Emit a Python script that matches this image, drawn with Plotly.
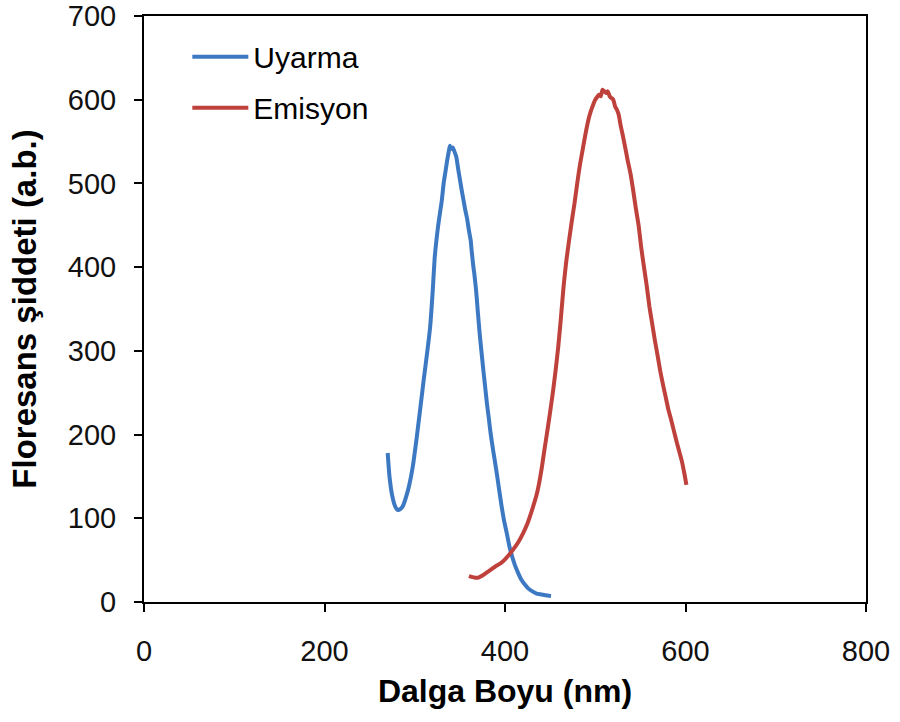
import plotly.graph_objects as go

# Uyarma (excitation) spectrum
uyarma_nm = [270, 272, 275, 278, 281, 284, 287, 290, 294, 298, 302, 306, 310, 314, 317,
             320, 322, 324, 326, 328, 330, 332, 334, 336, 338, 339, 340, 342, 344, 346,
             348, 350, 352, 354, 356, 358, 360, 362, 363, 364, 365, 366, 368, 370, 372,
             374, 376, 378, 380, 382, 384, 387, 390, 393, 396, 399, 402, 405, 408, 411,
             414, 418, 422, 426, 430, 435, 440, 445, 451]
uyarma_val = [178, 150, 127, 115, 110, 111, 115, 124, 140, 163, 195, 230, 266, 300, 328,
              373, 410, 432, 450, 465, 480, 500, 514, 528, 540, 545, 541, 543, 538, 532,
              518, 505, 492, 480, 468, 458, 444, 432, 420, 410, 400, 392, 372, 345, 320,
              298, 277, 257, 237, 220, 202, 180, 160, 138, 116, 97, 82, 66, 54, 44,
              36, 27, 21, 16, 13, 10, 9, 8, 7]

# Emisyon (emission) spectrum
emisyon_nm = [360, 363, 367, 370, 374, 378, 382, 386, 390, 395, 400, 405, 410, 415, 420,
              425, 430, 435, 438, 441, 444, 447, 450, 453, 456, 459, 462, 465, 468, 471,
              474, 477, 480, 483, 486, 489, 492, 495, 498, 500, 502, 504, 506, 508, 510,
              512, 514, 516, 518, 520, 522, 524, 526, 528, 530, 533, 536, 539, 542, 545,
              548, 551, 554, 557, 560, 563, 566, 569, 572, 575, 578, 581, 584, 587, 590,
              593, 596, 599, 601]
emisyon_val = [31, 30, 29, 29, 31, 34, 37, 40, 43, 46, 51, 57, 64, 72, 82,
               94, 110, 128, 143, 162, 184, 205, 227, 250, 276, 305, 340, 378, 408, 432,
               455, 476, 500, 522, 540, 558, 574, 586, 595, 600, 603, 606, 604, 612, 610,
               608, 610, 604, 602, 600, 592, 588, 582, 570, 560, 544, 527, 512, 492, 470,
               450, 423, 400, 378, 353, 333, 313, 295, 276, 260, 245, 230, 218, 205, 192,
               180, 168, 152, 140]

x_ticks = [0, 200, 400, 600, 800]
y_ticks = [0, 100, 200, 300, 400, 500, 600, 700]

BLUE = "#3D79C2"
RED = "#BF413C"
FONT = "Liberation Sans, Arial, sans-serif"

fig = go.Figure()
fig.add_trace(go.Scatter(x=uyarma_nm, y=uyarma_val, mode="lines", name="Uyarma",
                         legendgroup="a",
                         line=dict(color=BLUE, width=4, shape="spline", smoothing=0.5)))
fig.add_trace(go.Scatter(x=emisyon_nm, y=emisyon_val, mode="lines", name="Emisyon",
                         legendgroup="b",
                         line=dict(color=RED, width=4, shape="spline", smoothing=0.5)))

axis_common = dict(
    showline=True, linecolor="black", linewidth=2, mirror=True,
    ticks="outside", ticklen=8, tickwidth=2, tickcolor="black",
    showgrid=False, zeroline=False, automargin=False,
    tickfont=dict(family=FONT, size=29, color="#111"),
)

fig.update_layout(
    width=900, height=722,
    margin=dict(l=144, r=34, t=16, b=120),
    paper_bgcolor="white", plot_bgcolor="white",
    font=dict(family=FONT, color="black"),
    xaxis=dict(range=[0, 800], tickvals=x_ticks, ticklabelstandoff=14,
               title=dict(text="<b>Dalga Boyu (nm)</b>",
                          font=dict(family=FONT, size=32, color="black"),
                          standoff=14),
               **axis_common),
    yaxis=dict(range=[0, 700], tickvals=y_ticks, ticklabelstandoff=12,
               title=dict(text="<b>Floresans şiddeti (a.b.)</b>",
                          font=dict(family=FONT, size=33, color="black"),
                          standoff=21),
               **axis_common),
    showlegend=True,
    legend=dict(x=0.06, y=0.975, xanchor="left", yanchor="top",
                bgcolor="rgba(0,0,0,0)", itemwidth=56, tracegroupgap=9,
                font=dict(family=FONT, size=30, color="black")),
)

fig.write_html("out.html")
